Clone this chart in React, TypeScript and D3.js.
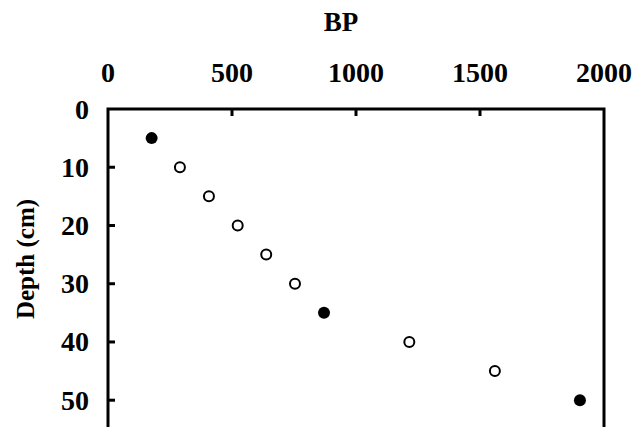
import React, { useEffect, useRef } from "react";
import * as d3 from "d3";

// radiocarbon-based age vs depth
const depths = [5, 10, 15, 20, 25, 30, 35, 40, 45, 50];
const ages = [176, 290, 407, 523, 638, 754, 871, 1215, 1560, 1903];
const dated = [true, false, false, false, false, false, true, false, false, true];
const xTicks = [0, 500, 1000, 1500, 2000];
const yTicks = [0, 10, 20, 30, 40, 50];

const W = 634;
const H = 427;
const margin = { top: 109, right: 30, bottom: 0, left: 108 };
const font = "Liberation Serif";
const yMax = 54.6;

const App = () => {
  const svgRef = useRef<SVGSVGElement>(null);

  useEffect(() => {
    const svg = d3.select(svgRef.current);
    svg.selectAll("*").remove();

    const x = d3.scaleLinear().domain([0, 2000]).range([margin.left, W - margin.right]);
    const y = d3.scaleLinear().domain([0, yMax]).range([margin.top, H - margin.bottom]);

    const g = svg.append("g").attr("font-family", font).attr("font-weight", "bold");

    // frame (bottom edge falls just off the page, as in the scan)
    g.append("path")
      .attr(
        "d",
        `M${x(0)},${y(yMax) + 4}V${y(0)}H${x(2000)}V${y(yMax) + 4}`
      )
      .attr("fill", "none")
      .attr("stroke", "#000")
      .attr("stroke-width", 3);

    // inward ticks
    g.selectAll(".xt")
      .data(xTicks.slice(1, -1))
      .enter()
      .append("line")
      .attr("x1", (d) => x(d))
      .attr("x2", (d) => x(d))
      .attr("y1", y(0))
      .attr("y2", y(0) + 7)
      .attr("stroke", "#000")
      .attr("stroke-width", 3);

    g.selectAll(".yt")
      .data(yTicks.slice(1))
      .enter()
      .append("line")
      .attr("x1", x(0))
      .attr("x2", x(0) + 7)
      .attr("y1", (d) => y(d))
      .attr("y2", (d) => y(d))
      .attr("stroke", "#000")
      .attr("stroke-width", 3);

    // tick labels
    g.selectAll(".xl")
      .data(xTicks)
      .enter()
      .append("text")
      .attr("x", (d) => x(d))
      .attr("y", 82)
      .attr("text-anchor", "middle")
      .attr("font-size", 28)
      .text((d) => d);

    g.selectAll(".yl")
      .data(yTicks)
      .enter()
      .append("text")
      .attr("x", 89)
      .attr("y", (d) => y(d))
      .attr("dy", "0.34em")
      .attr("text-anchor", "end")
      .attr("font-size", 28)
      .text((d) => d);

    // axis titles
    g.append("text")
      .attr("x", 341)
      .attr("y", 31)
      .attr("text-anchor", "middle")
      .attr("font-size", 27)
      .text("BP");

    g.append("text")
      .attr("transform", `translate(34,259) rotate(-90)`)
      .attr("text-anchor", "middle")
      .attr("font-size", 25)
      .text("Depth (cm)");

    // points
    g.selectAll(".pt")
      .data(depths)
      .enter()
      .append("circle")
      .attr("cx", (d, i) => x(ages[i]))
      .attr("cy", (d) => y(d))
      .attr("r", (d, i) => (dated[i] ? 6 : 5))
      .attr("fill", (d, i) => (dated[i] ? "#000" : "#fff"))
      .attr("stroke", "#000")
      .attr("stroke-width", (d, i) => (dated[i] ? 0 : 2));
  }, []);

  return (
    <svg
      ref={svgRef}
      width={W}
      height={H}
      style={{ position: "absolute", left: 0, top: 0, background: "#fff" }}
    />
  );
};

export default App;
